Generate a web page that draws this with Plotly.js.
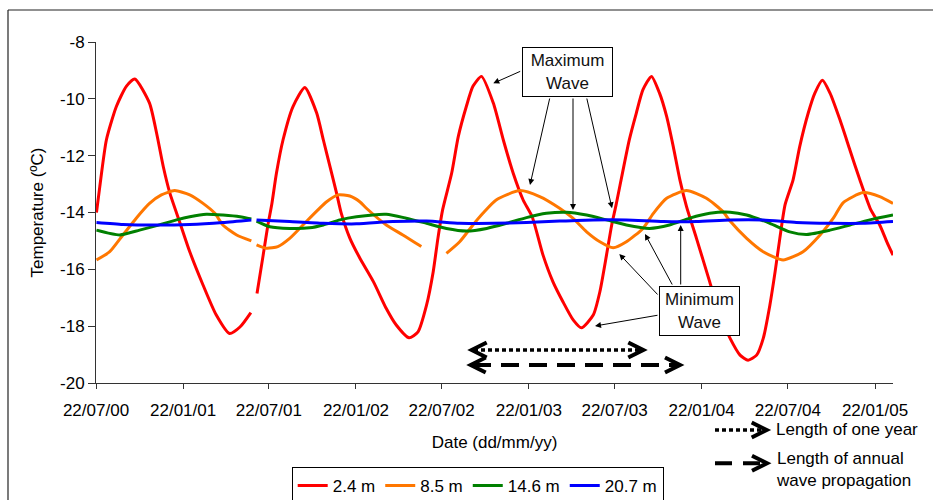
<!DOCTYPE html>
<html>
<head>
<meta charset="utf-8">
<script src="https://cdn.plot.ly/plotly-3.0.1.min.js"></script>
<style>html,body{margin:0;padding:0;background:#fff;}#chart{width:933px;height:500px;}</style>
</head>
<body>
<div id="chart"></div>
<script>
// ---- Data (day offsets from 22/07/2000, temperature in ºC); null = data gap ----
const startDate = '2000-07-22';

const red_days = [1,8,22,43,64,82,113,128,142,156,177,198,226,254,282,304,327,null,340,353,363,371,381,395,416,441,466,480,494,508,518,536,557,586,613,634,661,680,698,712,722,732,751,765,782,796,814,839,860,881,902,921,944,965,986,1008,1025,1050,1064,1078,1089,1098,1126,1141,1155,1173,1190,1205,1219,1233,1247,1268,1296,1317,1339,1360,1377,1395,1409,1423,1434,1444,1455,1472,1486,1504,1518,1534,1550,1571,1592,1613,1636,1655,1670,1683];
const red_temp = [-14.0,-13.09,-11.44,-10.27,-9.56,-9.30,-10.15,-11.21,-12.38,-13.32,-14.35,-15.38,-16.55,-17.61,-18.26,-18.03,-17.52,null,-16.85,-15.50,-14.44,-13.73,-12.62,-11.44,-10.27,-9.60,-10.50,-11.44,-12.38,-13.32,-14.03,-14.9,-15.6,-16.44,-17.38,-17.96,-18.41,-18.2,-17.26,-16.09,-14.91,-13.9,-12.62,-11.33,-10.27,-9.56,-9.21,-10.15,-11.44,-12.62,-13.56,-14.15,-15.5,-16.44,-17.14,-17.79,-18.06,-17.61,-16.79,-15.5,-14.44,-13.75,-11.45,-10.5,-9.68,-9.21,-9.8,-10.62,-11.68,-12.85,-13.79,-14.91,-16.44,-17.61,-18.43,-19.02,-19.20,-19.02,-18.43,-17.26,-16.09,-14.91,-13.73,-12.85,-11.68,-10.5,-9.8,-9.35,-9.8,-10.74,-11.8,-12.85,-13.9,-14.44,-15.03,-15.5];

const orange_days = [1,29,57,85,113,138,166,198,226,251,268,297,328,null,339,360,384,409,437,466,487,511,536,557,571,613,648,687,null,740,768,796,817,845,895,937,979,1007,1036,1064,1092,1120,1155,1177,1205,1247,1289,1324,1339,1374,1409,1451,1493,1529,1557,1578,1620,1655,1683];
const orange_temp = [-15.67,-15.38,-14.79,-14.2,-13.68,-13.38,-13.23,-13.38,-13.68,-14.03,-14.44,-14.79,-15.0,null,-15.14,-15.26,-15.2,-14.91,-14.44,-13.95,-13.62,-13.38,-13.42,-13.62,-13.85,-14.44,-14.79,-15.2,null,-15.44,-15.03,-14.44,-14.03,-13.56,-13.23,-13.44,-13.85,-14.2,-14.68,-15.03,-15.24,-15.03,-14.56,-14.03,-13.5,-13.23,-13.5,-13.97,-14.3,-14.91,-15.38,-15.67,-15.38,-14.79,-14.2,-13.65,-13.3,-13.44,-13.68];

const green_days = [1,50,92,128,170,198,233,268,304,328,null,339,367,409,451,480,515,550,613,655,698,740,782,825,867,909,951,993,1036,1078,1120,1169,1211,1254,1296,1339,1374,1423,1465,1501,1550,1592,1634,1683];
const green_temp = [-14.62,-14.79,-14.62,-14.46,-14.26,-14.15,-14.06,-14.09,-14.15,-14.23,null,-14.3,-14.5,-14.56,-14.54,-14.44,-14.26,-14.15,-14.06,-14.2,-14.38,-14.56,-14.65,-14.56,-14.38,-14.18,-14.03,-13.99,-14.09,-14.26,-14.44,-14.56,-14.44,-14.2,-14.03,-13.99,-14.09,-14.38,-14.68,-14.77,-14.62,-14.44,-14.26,-14.09];

const blue_days = [1,57,128,198,268,328,null,339,409,480,550,627,698,768,839,909,979,1050,1120,1198,1268,1339,1409,1479,1550,1620,1683];
const blue_temp = [-14.35,-14.42,-14.44,-14.42,-14.35,-14.26,null,-14.26,-14.32,-14.38,-14.40,-14.32,-14.3,-14.38,-14.38,-14.35,-14.3,-14.26,-14.26,-14.32,-14.32,-14.26,-14.26,-14.35,-14.38,-14.38,-14.32];

const seriesNames = ['2.4 m','8.5 m','14.6 m','20.7 m'];
const seriesColors = ['#FF0000','#FF7700','#008000','#0000FF'];

const tickDates = ['2000-07-22','2001-01-22','2001-07-22','2002-01-22','2002-07-22','2003-01-22','2003-07-22','2004-01-22','2004-07-22','2005-01-22'];
const tickLabels = ['22/07/00','22/01/01','22/07/01','22/01/02','22/07/02','22/01/03','22/07/03','22/01/04','22/07/04','22/01/05'];
const yTickVals = [-20,-18,-16,-14,-12,-10,-8];
const yTickLabels = ['-20','-18','-16','-14','-12','-10','-8'];

// ---- helpers ----
const t0 = Date.UTC(2000,6,22);
function toDate(d){ return d === null ? null : new Date(t0 + d*86400000).toISOString().slice(0,10); }

const FONT = 'Liberation Sans, Arial, Helvetica, sans-serif';
const L = 96, T = 42, W = 797, H = 341;
function PX(px){ return (px - L)/W; }
function PY(py){ return (T + H - py)/H; }

const dayArrays = [red_days, orange_days, green_days, blue_days];
const tempArrays = [red_temp, orange_temp, green_temp, blue_temp];

const traces = dayArrays.map((days,i) => ({
  type:'scatter', mode:'lines', name: seriesNames[i],
  x: days.map(toDate), y: tempArrays[i],
  connectgaps:false,
  line:{color: seriesColors[i], width: 3, shape:'spline', smoothing:0.6}
}));

// ---- decorations ----
function line(x0,y0,x1,y1,w,dash,color){
  return {type:'line', xref:'paper', yref:'paper', x0:PX(x0), y0:PY(y0), x1:PX(x1), y1:PY(y1),
    line:{color: color||'#000', width:w, dash: dash||'solid'}};
}
function chevron(tipx, tipy, dir, w){
  const dx = 15*dir, dy = 7.5;
  const p = 'M ' + PX(tipx-dx) + ' ' + PY(tipy-dy) + ' L ' + PX(tipx) + ' ' + PY(tipy) + ' L ' + PX(tipx-dx) + ' ' + PY(tipy+dy);
  return {type:'path', xref:'paper', yref:'paper', path:p, line:{color:'#000', width:w}};
}

const shapes = [
  // outer chart border (left & top)
  line(8,10,8,505,1.2,'solid','#222'),
  line(8,10,940,10,1.2,'solid','#222'),
  // one-year dotted double arrow
  line(474,350,641,350,3.5,'4px,3px'),
  chevron(471.7,350,-1,4), chevron(643.3,350,1,4),
  // propagation dashed double arrow
  line(473,365,678,365,4,'18px,10px'),
  chevron(470.7,365,-1,4), chevron(680,365,1,4),
  // key symbols on the right
  line(715,430,764,430,3.5,'4px,3px'),
  chevron(766.7,430,1,4),
  line(715,463.3,764,463.3,4,'17px,11px'),
  chevron(767,463.3,1,4)
];

function arrow(hx,hy,tx,ty){
  return {xref:'paper', yref:'paper', x:PX(hx), y:PY(hy), ax: tx-hx, ay: ty-hy,
    text:'', showarrow:true, arrowhead:2, arrowsize:1.2, arrowwidth:1, arrowcolor:'#000', standoff:0};
}
function box(cx,cy,w,h,txt){
  return {xref:'paper', yref:'paper', x:PX(cx), y:PY(cy), xanchor:'center', yanchor:'middle',
    text:txt, showarrow:false, width:w, height:h, bgcolor:'#fff', bordercolor:'#000', borderwidth:1, borderpad:1,
    font:{family:FONT, size:17, color:'#111'}, align:'center'};
}
function label(x,y,txt){
  return {xref:'paper', yref:'paper', x:PX(x), y:PY(y), xanchor:'left', yanchor:'middle', text:txt,
    showarrow:false, align:'left', font:{family:FONT, size:17, color:'#000'}};
}

const annotations = [
  arrow(493.3,83.3,521.7,70.7),
  arrow(530,185,550,97),
  arrow(573,210,573,97),
  arrow(612,208.3,586.5,97),
  arrow(595,326,659,315),
  arrow(619.3,254,659,296),
  arrow(645,234,673,286),
  arrow(680.7,225,680.7,286),
  box(567,71.7,87,46,'Maximum<br>Wave'),
  box(699.7,311,77,46,'Minimum<br>Wave'),
  label(774,430,'Length of one year'),
  label(774,469.2,'Length of annual<br>wave propagation')
];

const layout = {
  width:933, height:500,
  margin:{l:L, r:933-L-W, t:T, b:500-T-H, pad:0, autoexpand:false},
  paper_bgcolor:'#fff', plot_bgcolor:'#fff',
  font:{family:FONT, size:17, color:'#000'},
  showlegend:true,
  legend:{orientation:'h', x:PX(291.7), y:PY(467), xanchor:'left', yanchor:'top',
    bordercolor:'#000', borderwidth:1, bgcolor:'#fff', font:{family:FONT, size:17, color:'#000'},
    itemwidth:30, tracegroupgap:0},
  xaxis:{type:'date', range:[startDate,'2005-03-01'], tickvals:tickDates, ticktext:tickLabels,
    showgrid:false, zeroline:false, showline:true, linecolor:'#333', linewidth:1,
    ticks:'outside', ticklen:5, tickcolor:'#333', ticklabelstandoff:7, automargin:false,
    tickfont:{family:FONT,size:17,color:'#000'},
    title:{text:'Date (dd/mm/yy)', font:{family:FONT,size:17,color:'#000'}, standoff:16}, fixedrange:true},
  yaxis:{range:[-20,-8], tickvals:yTickVals, ticktext:yTickLabels,
    showgrid:false, zeroline:false, showline:true, linecolor:'#333', linewidth:1,
    ticks:'outside', ticklen:7, tickcolor:'#333', automargin:false,
    tickfont:{family:FONT,size:17,color:'#000'},
    title:{text:'Temperature (ºC)', font:{family:FONT,size:17,color:'#000'}, standoff:12}, fixedrange:true},
  shapes: shapes,
  annotations: annotations
};

Plotly.newPlot('chart', traces, layout, {displayModeBar:false, staticPlot:true});
</script>
</body>
</html>
